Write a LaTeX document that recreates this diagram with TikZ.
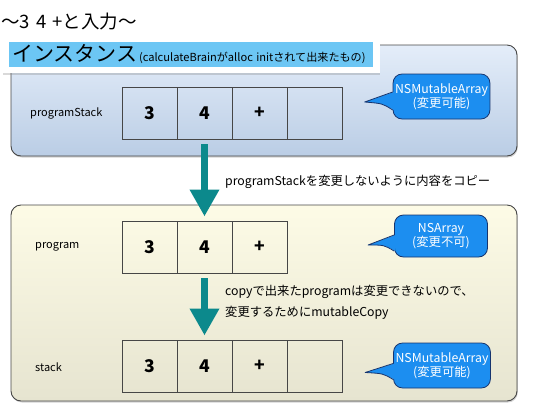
\documentclass[tikz,border=0pt]{standalone}
\usepackage{fontspec}
\setmainfont{Noto Sans CJK JP}
\usetikzlibrary{positioning, shadows, arrows.meta}
\definecolor{bluetop}{RGB}{228,237,249}
\definecolor{bluebot}{RGB}{186,205,229}
\definecolor{creamtop}{RGB}{253,251,230}
\definecolor{creambot}{RGB}{230,228,208}
\definecolor{edgegray}{RGB}{70,70,70}
\definecolor{arrowteal}{RGB}{12,137,140}
\definecolor{bubfill}{RGB}{28,142,240}
\definecolor{bubedge}{RGB}{22,52,110}
\definecolor{instblue}{RGB}{108,198,244}
\tikzstyle{panel}  = [rectangle, rounded corners=10pt, draw=edgegray, line width=0.9pt,
                      minimum width=506pt, outer sep=0pt,
                      drop shadow={shadow xshift=0.8pt, shadow yshift=-1.5pt, opacity=0.35}]
\tikzstyle{cell}   = [rectangle, draw=edgegray, line width=0.7pt, minimum width=55pt,
                      minimum height=52pt, inner sep=0pt, outer sep=0pt,
                      font=\fontsize{17.5}{17.5}\selectfont\bfseries]
\tikzstyle{lbl}    = [anchor=west, inner sep=0pt, font=\fontsize{11}{11}\selectfont]
\tikzstyle{note}   = [anchor=west, inner sep=0pt, align=left,
                      font=\fontsize{12.3}{21}\selectfont]
\tikzstyle{fat}    = [-{Triangle[width=28pt,length=27pt]}, line width=7pt, draw=arrowteal,
                      shorten <=5pt, shorten >=4.5pt]
\tikzstyle{bubble} = [rectangle, rounded corners=9pt, fill=bubfill, draw=bubedge,
                      line width=0.8pt, text=white, align=center, minimum width=93pt,
                      inner sep=2pt, font=\fontsize{12.3}{14}\selectfont]
\tikzstyle{tailfill} = [fill=bubfill]
\tikzstyle{tailline} = [draw=bubedge, line width=0.8pt, line join=round]

\begin{document}
\begin{tikzpicture}[x=1pt, y=-1pt]
  \useasboundingbox (0,0) rectangle (550,413);

  % panels
  \node[panel, top color=bluetop, bottom color=bluebot, minimum height=111pt] (toppanel) at (264,100.5) {};
  \node[panel, top color=creamtop, bottom color=creambot, minimum height=196pt] (botpanel) at (264,303) {};

  \node[anchor=west, inner sep=0pt, font=\fontsize{18.5}{18.5}\selectfont] (title) at (1,22) {〜3\,\,4\,\,+と入力〜};

  \node[rectangle, fill=white, minimum width=377pt, minimum height=37pt,
        drop shadow={shadow xshift=0pt, shadow yshift=-2pt, opacity=0.3}] (instframe) at (191.5,54.5) {};
  \node[rectangle, fill=instblue, anchor=west, minimum width=364pt, minimum height=25pt,
        inner xsep=3pt, inner ysep=0pt, text width=358pt, align=left] (inst) at (9,54.5)
        {{\fontsize{21}{21}\selectfont インスタンス}\,{\fontsize{11.1}{12}\selectfont (calculateBrainがalloc initされて出来たもの)}};

  % programStack
  \node[lbl] (pslbl) at (30,113) {programStack};
  \node[cell] (ps1) at (149.5,113) {3};
  \node[cell, right=0pt of ps1] (ps2) {4};
  \node[cell, right=0pt of ps2] (ps3) {+};
  \node[cell, right=0pt of ps3] (ps4) {};

  % program
  \node[lbl] (pglbl) at (35,247) {program};
  \node[cell] (pg1) at (149.5,247) {3};
  \node[cell, right=0pt of pg1] (pg2) {4};
  \node[cell, right=0pt of pg2] (pg3) {+};

  % stack
  \node[lbl] (stlbl) at (35,367) {stack};
  \node[cell] (st1) at (149.5,366) {3};
  \node[cell, right=0pt of st1] (st2) {4};
  \node[cell, right=0pt of st2] (st3) {+};
  \node[cell, right=0pt of st3] (st4) {};

  \draw[fat] (ps2.south) -- (pg2.north);
  \draw[fat] (pg2.south) -- (st2.north);

  \node[note] (copynote) at (225,182) {programStackを変更しないように内容をコピー};
  \node[note] (mutnote) at (225,302.5) {copyで出来たprogramは変更できないので、\\変更するためにmutableCopy};

  % bubbles
  \node[bubble, minimum height=45pt] (bub1) at (441.5,96.5) {NSMutableArray\\(変更可能)};
  \node[bubble, minimum height=42pt] (bub2) at (441,236) {NSArray\\(変更不可)};
  \node[bubble, minimum height=45pt] (bub3) at (442,365.5) {NSMutableArray\\(変更可能)};

  \fill[tailfill] ([xshift=1.2pt,yshift=4.5pt]bub1.west) -- ([xshift=-28pt,yshift=-5.5pt]bub1.west)
    .. controls ([xshift=-10pt,yshift=-7pt]bub1.west) .. ([xshift=1.2pt,yshift=-13.5pt]bub1.west) -- cycle;
  \draw[tailline] ([yshift=4.5pt]bub1.west) -- ([xshift=-28pt,yshift=-5.5pt]bub1.west)
    .. controls ([xshift=-10pt,yshift=-7pt]bub1.west) .. ([yshift=-13.5pt]bub1.west);
  \fill[tailfill] ([xshift=1.2pt,yshift=1pt]bub2.west) -- ([xshift=-26pt,yshift=-9pt]bub2.west)
    .. controls ([xshift=-10pt,yshift=-9pt]bub2.west) .. ([xshift=1.2pt,yshift=-15pt]bub2.west) -- cycle;
  \draw[tailline] ([yshift=1pt]bub2.west) -- ([xshift=-26pt,yshift=-9pt]bub2.west)
    .. controls ([xshift=-10pt,yshift=-9pt]bub2.west) .. ([yshift=-15pt]bub2.west);
  \fill[tailfill] ([xshift=1.2pt,yshift=2pt]bub3.west) -- ([xshift=-28pt,yshift=-7pt]bub3.west)
    .. controls ([xshift=-10pt,yshift=-8pt]bub3.west) .. ([xshift=1.2pt,yshift=-14pt]bub3.west) -- cycle;
  \draw[tailline] ([yshift=2pt]bub3.west) -- ([xshift=-28pt,yshift=-7pt]bub3.west)
    .. controls ([xshift=-10pt,yshift=-8pt]bub3.west) .. ([yshift=-14pt]bub3.west);
\end{tikzpicture}
\end{document}
